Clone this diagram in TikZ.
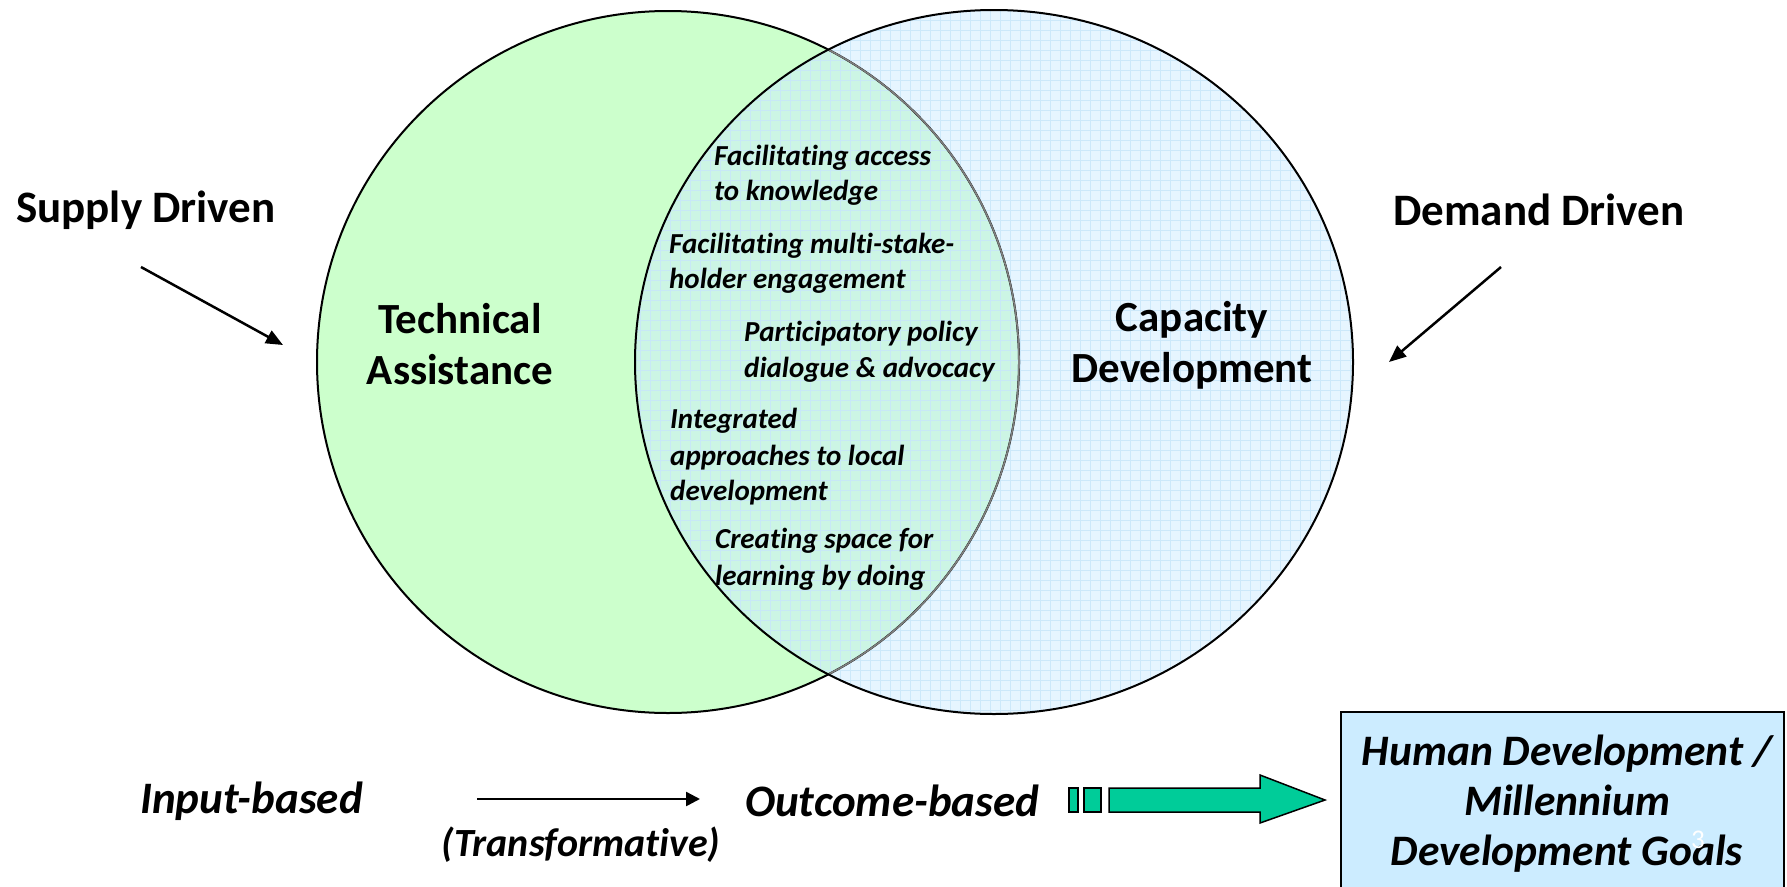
\documentclass[tikz,border=0pt]{standalone}
\usepackage{fontspec}
\setmainfont{Carlito}[RawFeature={-liga;-clig;-dlig;-calt}]
\usetikzlibrary{arrows.meta}
\definecolor{leftgreen}{HTML}{CCFFCC}
\definecolor{rightblue}{HTML}{E6F5FF}
\definecolor{midmint}{HTML}{CCF5E4}
\definecolor{gridblue}{HTML}{C8E6FA}
\definecolor{arrowgreen}{HTML}{00CC99}
\definecolor{boxblue}{HTML}{CCECFF}
\begin{document}
\begin{tikzpicture}[x=1pt,y=-1pt,
  sidefont/.style={font=\fontsize{45}{51}\selectfont\bfseries},
  bigfont/.style={font=\fontsize{43}{51}\selectfont\bfseries},
  bigit/.style={font=\fontsize{45}{51}\selectfont\bfseries\itshape},
  smallit/.style={font=\fontsize{29}{35}\selectfont\bfseries\itshape, inner sep=0pt, anchor=base west},
  ptr/.style={line width=2.5pt, -{Triangle[length=17pt,width=14pt]}},
]
\useasboundingbox (0,0) rectangle (1787,886);
\clip (0,0) rectangle (1787,886);
% circles fills
\fill[leftgreen] (668,362) circle[radius=351pt];
\fill[rightblue] (994,362) ellipse[x radius=359pt, y radius=352pt];
\begin{scope}
  \clip (994,362) ellipse[x radius=359pt, y radius=352pt];
  \fill[midmint] (668,362) circle[radius=351pt];
  \draw[gridblue, line width=0.7pt, opacity=0.85] (630,0) grid[step=10pt] (1360,720);
\end{scope}
% outlines
\draw[line width=2pt] (668,362) circle[radius=351pt];
\begin{scope}
  \clip (994,362) ellipse[x radius=359pt, y radius=352pt];
  \draw[line width=1.6pt, color=gray] (668,362) circle[radius=351pt];
\end{scope}
\draw[line width=2pt] (994,362) ellipse[x radius=359pt, y radius=352pt];

% side labels
\node[sidefont, anchor=west, inner sep=0pt] (supply) at (16,210) {Supply Driven};
\node[sidefont, anchor=west, inner sep=0pt] (demand) at (1393,210) {Demand Driven};
\coordinate (s1) at (141,267);
\coordinate (s2) at (283,345);
\coordinate (d1) at (1501,267);
\coordinate (d2) at (1389,362);
\draw[ptr] (s1) -- (s2);
\draw[ptr] (d1) -- (d2);

\node[bigfont, align=center] (ta) at (460,344) {Technical\\Assistance};
\node[bigfont, align=center] (cd) at (1192,345) {Capacity\\Development};

% intersection texts
\node[smallit] (a1) at (714,165) {Facilitating access};
\node[smallit] (a2) at (714,200) {to knowledge};
\node[smallit] (b1) at (669,253) {Facilitating multi-stake-};
\node[smallit] (b2) at (669,288) {holder engagement};
\node[smallit] (c1) at (744,341) {Participatory policy};
\node[smallit] (c2) at (744,377) {dialogue \& advocacy};
\node[smallit] (e1) at (670,428) {Integrated};
\node[smallit] (e2) at (670,465) {approaches to local};
\node[smallit] (e3) at (670,500) {development};
\node[smallit] (g1) at (715,548) {Creating space for};
\node[smallit] (g2) at (715,585) {learning by doing};

% bottom row
\node[bigit, anchor=west, inner sep=0pt] (inp) at (140,801) {Input-based};
\node[bigit, anchor=west, inner sep=0pt] (out) at (745,801) {Outcome-based};
\node[font=\fontsize{40}{46}\selectfont\bfseries\itshape, inner sep=0pt] (trans) at (581,845) {(Transformative)};
\coordinate (t1) at (477,799);
\coordinate (t2) at (700,799);
\draw[line width=2.5pt, -{Triangle[length=14pt,width=14pt]}] (t1) -- (t2);

% big green arrow
\draw[fill=arrowgreen, line width=1.5pt] (1069,788) rectangle (1078,812);
\draw[fill=arrowgreen, line width=1.5pt] (1084,788) rectangle (1101,812);
\draw[fill=arrowgreen, line width=1.5pt, line join=miter] (1109,788) -- (1260,788) -- (1260,775) -- (1325,800) -- (1260,823) -- (1260,812) -- (1109,812) -- cycle;

% goal box
\draw[fill=boxblue, line width=1.5pt] (1341,712) rectangle (1784,900);
\node[font=\fontsize{43.5}{50}\selectfont\bfseries\itshape, align=center] (goal) at (1567,804) {Human Development /\\Millennium\\Development Goals};
\node[font=\fontsize{27}{30}\selectfont, text=white, inner sep=0pt] (pg) at (1698,840) {3};
\end{tikzpicture}
\end{document}
